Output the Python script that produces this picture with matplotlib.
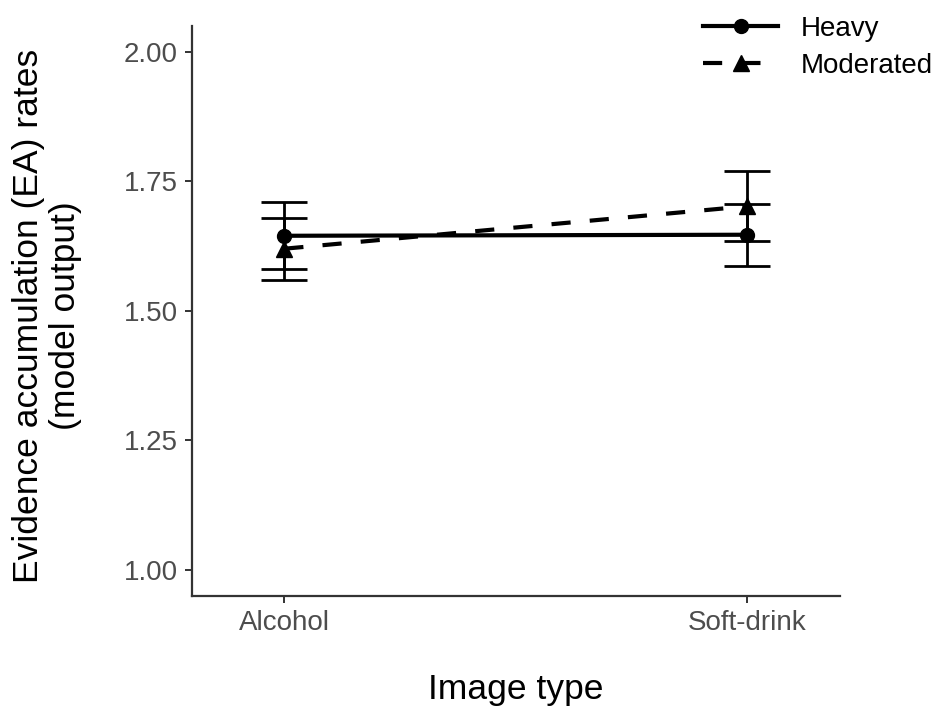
import matplotlib.pyplot as plt
import numpy as np

plt.rcParams['font.family'] = ['Liberation Sans', 'DejaVu Sans']

# Data
image_types = ["Alcohol", "Soft-drink"]
heavy_mean = [1.645, 1.647]
heavy_low = [1.581, 1.587]
heavy_high = [1.710, 1.707]
moderated_mean = [1.620, 1.702]
moderated_low = [1.560, 1.634]
moderated_high = [1.680, 1.771]

x = np.arange(len(image_types))

fig = plt.figure(figsize=(9.37, 7.13), dpi=100)
ax = fig.add_axes([0.2046, 0.1645, 0.6919, 0.799])

def draw_group(mean, low, high, marker, dashed, label):
    mean = np.array(mean)
    yerr = [mean - np.array(low), np.array(high) - mean]
    ax.errorbar(x, mean, yerr=yerr, fmt='none', ecolor='black',
                elinewidth=2.0, capsize=16.5, capthick=2.0, zorder=2)
    line, = ax.plot(x, mean, color='black', linewidth=3.0, marker=marker,
                    markersize=10 if marker == 'o' else 11, label=label, zorder=3)
    if dashed:
        line.set_dashes([4.6, 4.6])
    return line

draw_group(heavy_mean, heavy_low, heavy_high, 'o', False, "Heavy")
draw_group(moderated_mean, moderated_low, moderated_high, '^', True, "Moderated")

ax.set_xlim(-0.2, 1.2)
ax.set_ylim(0.95, 2.05)
ax.set_xticks(x)
ax.set_xticklabels(image_types)
ax.set_yticks([1.00, 1.25, 1.50, 1.75, 2.00])
ax.set_yticklabels(["1.00", "1.25", "1.50", "1.75", "2.00"])

for side in ['top', 'right']:
    ax.spines[side].set_visible(False)
for side in ['left', 'bottom']:
    ax.spines[side].set_color('#333333')
    ax.spines[side].set_linewidth(1.6)
ax.tick_params(axis='both', colors='#333333', width=1.4, length=5,
               labelsize=20, labelcolor='#4d4d4d', pad=5)

fig.text(516 / 937, 1 - 690 / 713, "Image type", fontsize=25.5,
         ha='center', va='center', color='black')
fig.text(47 / 937, 1 - 316 / 713, "Evidence accumulation (EA) rates\n(model output)",
         fontsize=25.5, rotation=90, ha='center', va='center',
         multialignment='center', linespacing=1.12, color='black')

leg = fig.legend(loc='upper right', bbox_to_anchor=(1.0 + 8 / 937, 1.0 - 3 / 713),
                 frameon=False, fontsize=20, handlelength=2.7, handletextpad=0.8,
                 labelspacing=0.42, borderaxespad=0.05)
for h in leg.legend_handles:
    h.set_linewidth(3.0)

plt.savefig("out.png", dpi=100)
